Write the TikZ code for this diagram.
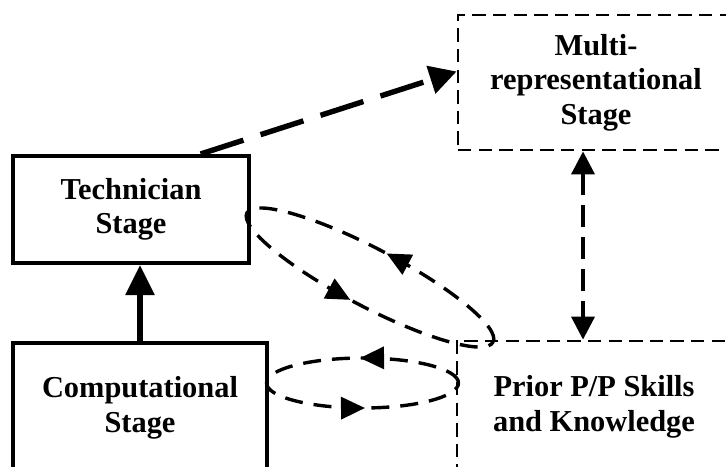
\documentclass[tikz,border=0pt]{standalone}
\usepackage{fontspec}
\setmainfont{Liberation Serif}
\usetikzlibrary{arrows.meta,decorations.markings,calc}

\begin{document}
\begin{tikzpicture}[
    x=0.5pt, y=0.5pt,
    box/.style={rectangle, draw=black, line width=2pt, align=center, font=\bfseries\fontsize{15.2}{17.3}\selectfont},
    dashbox/.style={box, line width=1.4pt, dash pattern=on 6.7pt off 3.6pt},
    arrow/.style={-{Triangle[length=15pt,width=14pt]}, line width=2.8pt},
    orbit/.style={line width=1.7pt, dash pattern=on 9pt off 5.5pt, postaction={decorate}},
    ringtip/.tip={Triangle[length=12pt,width=11pt]}
]
    \useasboundingbox (0,0) rectangle (726,-466);

    % Nodes
    \node[box, minimum width=118pt, minimum height=53.5pt] (tech) at (131,-209.5) {Technician\\Stage};
    \node[box, minimum width=127pt, minimum height=64.5pt] (comp) at (140,-407.5) {Computational\\Stage};
    \node[dashbox, minimum width=138pt, minimum height=67.5pt] (multi) at (596,-82.5) {Multi-\\representational\\Stage};
    \node[dashbox, minimum width=137pt, minimum height=66pt] (prior) at (594,-407) {Prior P/P Skills\\and Knowledge};
    \coordinate (link) at (583,0);

    % Arrows
    \draw[arrow] (comp.north) -- (comp.north |- tech.south);
    \draw[line width=2.7pt, dash pattern=on 22.5pt off 9pt, -{Triangle[length=13.5pt,width=14pt]}]
        ($(tech.north west)!0.79!(tech.north east)$) -- ($(multi.north west)!0.42!(multi.south west)$);
    \draw[{Triangle[length=11.5pt,width=11.5pt]}-{Triangle[length=11.5pt,width=11.5pt]}, line width=1.9pt, dash pattern=on 11pt off 5pt]
        (multi.south -| link) -- (prior.north -| link);

    % Loops between the stages and prior knowledge
    \draw[orbit, rotate around={-27.7:(370,-277.5)},
        decoration={markings, mark=at position 0.244 with {\arrow{ringtip}}, mark=at position 0.738 with {\arrow{ringtip}}}]
        (370,-277.5) ellipse (139 and 29);
    \draw[orbit,
        decoration={markings, mark=at position 0.256 with {\arrow{ringtip}}, mark=at position 0.756 with {\arrow{ringtip}}}]
        (362.5,-383) ellipse (96 and 25);
\end{tikzpicture}
\end{document}
